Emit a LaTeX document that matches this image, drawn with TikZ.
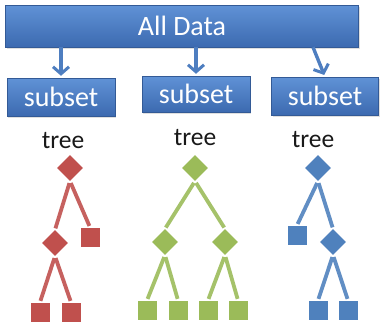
\documentclass[tikz,border=0pt]{standalone}
\usepackage{fontspec}
\setmainfont{Carlito}
\usetikzlibrary{shapes.geometric,arrows.meta,shadows}
\definecolor{boxtop}{RGB}{96,146,214}
\definecolor{boxbot}{RGB}{60,106,176}
\definecolor{arr}{RGB}{78,126,192}
\definecolor{tred}{RGB}{192,80,77}
\definecolor{tgreen}{RGB}{155,187,89}
\definecolor{tblue}{RGB}{79,129,189}
\begin{document}
\begin{tikzpicture}[x=1pt,y=-1pt,
  databox/.style={draw=boxbot!85!black, line width=0.4pt, top color=boxtop, bottom color=boxbot,
    text=white, font=\fontsize{28}{28}\selectfont, inner sep=0pt,
    drop shadow={opacity=0.25,shadow xshift=1pt,shadow yshift=-2pt}},
  arrowline/.style={draw=arr, line width=3.4pt, shorten >=2pt,
    -{Straight Barb[length=7pt,width=16pt,line width=3pt]}},
  treelabel/.style={font=\fontsize{25.5}{26}\selectfont, text=black!90, inner sep=0pt},
  dnode/.style={diamond, aspect=1, minimum width=26pt, minimum height=26pt, inner sep=0pt, fill=#1},
  snode/.style={rectangle, minimum size=19pt, inner sep=0pt, fill=#1},
  branch/.style={draw=#1!90!white, line width=3.8pt, shorten <=2pt, shorten >=1.5pt}
]
\useasboundingbox (0,0) rectangle (390,327);
\fill[white] (0,0) rectangle (390,327);

% boxes
\node[databox, minimum width=353pt, minimum height=42pt] (all) at (182,26) {All Data};
\node[databox, minimum width=108pt, minimum height=38pt] (s1) at (61,97) {subset};
\node[databox, minimum width=108pt, minimum height=36pt] (s2) at (196,94) {subset};
\node[databox, minimum width=107pt, minimum height=38pt] (s3) at (325,96) {subset};

\draw[arrowline] (all.south -| s1.north) -- (s1.north);
\draw[arrowline] (all.south -| s2.north) -- (s2.north);
\draw[arrowline] ([xshift=-12pt]all.south -| s3.north) -- (s3.north);

% labels
\node[treelabel] (t1) at (63,141) {tree};
\node[treelabel] (t2) at (195,138) {tree};
\node[treelabel] (t3) at (313,140) {tree};

% red tree
\node[dnode=tred] (r0) at (70,168) {};
\node[dnode=tred] (r1) at (55,243) {};
\node[snode=tred] (r2) at (90,237) {};
\node[snode=tred] (r3) at (40,312) {};
\node[snode=tred] (r4) at (71,312) {};
\draw[branch=tred] (r0.south) -- (r1.north);
\draw[branch=tred] (r0.south) -- (r2.north);
\draw[branch=tred] (r1.south) -- (r3.north);
\draw[branch=tred] (r1.south) -- (r4.north);

% green tree
\node[dnode=tgreen] (g0) at (195,168) {};
\node[dnode=tgreen] (g1) at (165,242) {};
\node[dnode=tgreen] (g2) at (225,242) {};
\node[snode=tgreen] (g3) at (147,310) {};
\node[snode=tgreen] (g4) at (178,310) {};
\node[snode=tgreen] (g5) at (208,310) {};
\node[snode=tgreen] (g6) at (238,310) {};
\draw[branch=tgreen] (g0.south) -- (g1.north);
\draw[branch=tgreen] (g0.south) -- (g2.north);
\draw[branch=tgreen] (g1.south) -- (g3.north);
\draw[branch=tgreen] (g1.south) -- (g4.north);
\draw[branch=tgreen] (g2.south) -- (g5.north);
\draw[branch=tgreen] (g2.south) -- (g6.north);

% blue tree
\node[dnode=tblue] (b0) at (318,168) {};
\node[snode=tblue] (b1) at (297,235) {};
\node[dnode=tblue] (b2) at (333,242) {};
\node[snode=tblue] (b3) at (318,310) {};
\node[snode=tblue] (b4) at (348,310) {};
\draw[branch=tblue] (b0.south) -- (b1.north);
\draw[branch=tblue] (b0.south) -- (b2.north);
\draw[branch=tblue] (b2.south) -- (b3.north);
\draw[branch=tblue] (b2.south) -- (b4.north);
\end{tikzpicture}
\end{document}
